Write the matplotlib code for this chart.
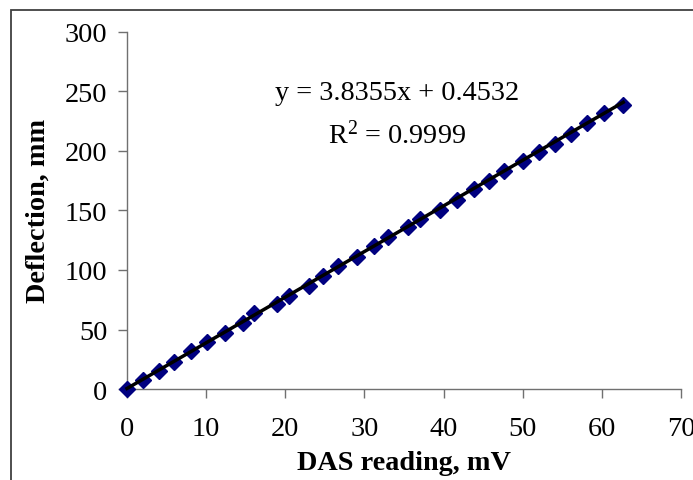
import numpy as np
import matplotlib
matplotlib.use("Agg")
import matplotlib.pyplot as plt
from matplotlib.patches import Rectangle

# DAS reading (mV) vs deflection (mm)
das_mv = [0, 2.0, 4.0, 6.0, 8.1, 10.1, 12.4, 14.7, 16.1, 19.0, 20.5, 23.0, 24.8,
          26.7, 29.0, 31.2, 33.0, 35.5, 37.0, 39.5, 41.7, 43.8, 45.7, 47.6, 50.0,
          52.0, 54.1, 56.1, 58.1, 60.3, 62.7]
deflection_mm = [0, 7.8, 15.1, 22.9, 31.7, 39.8, 46.8, 55.2, 64.0, 71.4, 78.4, 86.8,
                 95.2, 103.6, 110.7, 120.0, 127.5, 135.9, 142.9, 150.7, 159.0, 168.0,
                 175.0, 183.5, 191.8, 199.4, 205.9, 214.3, 223.3, 231.7, 239.0]
slope = 3.8355
intercept = 0.4532
r_squared = 0.9999

x_ticks = [0, 10, 20, 30, 40, 50, 60, 70]
y_ticks = [0, 50, 100, 150, 200, 250, 300]

plt.rcParams['font.family'] = ['Liberation Serif', 'DejaVu Serif']
plt.rcParams['mathtext.fontset'] = 'custom'
plt.rcParams['mathtext.rm'] = 'Liberation Serif'
plt.rcParams['mathtext.it'] = 'Liberation Serif:italic'

W, H = 693, 481
fig = plt.figure(figsize=(W / 100, H / 100), dpi=100, facecolor='white')
ax = fig.add_axes([127 / W, 1 - 390 / H, 554 / W, 357 / H])

# chart border (runs off the right and bottom edges)
fig.patches.append(Rectangle((11 / W, -0.2), 1.2, 1.2 - 11 / H,
                             transform=fig.transFigure, fill=False,
                             edgecolor='#404040', lw=1.3))

xfit = np.array([min(das_mv), max(das_mv)])
ax.plot(das_mv, deflection_mm, linestyle='none', marker='D', markersize=8,
        color='#000080', clip_on=False, zorder=3)
ax.plot(xfit, slope * xfit + intercept, color='black', lw=2.5, clip_on=False, zorder=4)

ax.set_xlim(0, 70)
ax.set_ylim(0, 300)
ax.set_xticks(x_ticks)
ax.set_yticks(y_ticks)
ax.spines['top'].set_visible(False)
ax.spines['right'].set_visible(False)
for s in ('left', 'bottom'):
    ax.spines[s].set_color('#707070')
    ax.spines[s].set_linewidth(1.0)
ax.tick_params(axis='y', direction='out', length=6.2, width=1.0, color='#707070',
               labelsize=20.3, pad=8)
ax.tick_params(axis='x', direction='out', length=6.5, width=1.0, color='#707070',
               labelsize=20.3, pad=13)

ax.text(34.1, 243.7, 'y = %.4fx + %.4f' % (slope, intercept), ha='center',
        va='baseline', fontsize=20.3)
ax.text(34.1, 206.7, 'R$^{2}$ = %.4f' % r_squared, ha='center', va='baseline',
        fontsize=20.3)

fig.text(404 / W, 1 - 470 / H, 'DAS reading, mV', ha='center', va='baseline',
         fontsize=20.3, fontweight='bold')
fig.text(45 / W, 1 - 211 / H, 'Deflection, mm', ha='center', va='baseline',
         rotation=90, rotation_mode='anchor', fontsize=20.3, fontweight='bold')

fig.savefig('out.png', dpi=100, facecolor='white')
